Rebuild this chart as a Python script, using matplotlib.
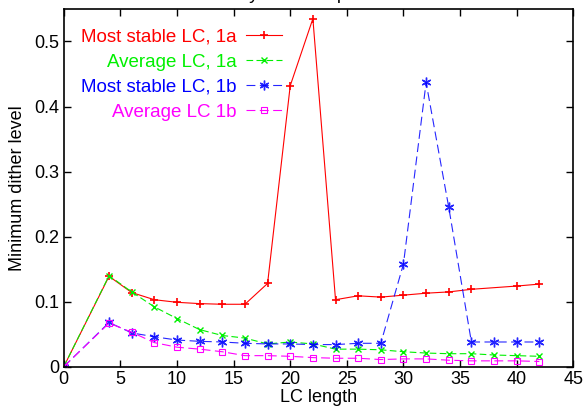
import matplotlib
matplotlib.use("Agg")
import matplotlib.pyplot as plt

plt.rcParams['font.family'] = ['Liberation Sans', 'DejaVu Sans']

x_red = [0, 4, 6, 8, 10, 12, 14, 16, 18, 20, 22, 24, 26, 28, 30, 32, 34, 36, 40, 42]
y_red = [0.0, 0.139, 0.114, 0.103, 0.099, 0.097, 0.096, 0.096, 0.128, 0.432, 0.535,
         0.103, 0.109, 0.107, 0.110, 0.113, 0.115, 0.119, 0.124, 0.127]

x_all = [0, 4, 6, 8, 10, 12, 14, 16, 18, 20, 22, 24, 26, 28, 30, 32, 34, 36, 38, 40, 42]
y_green = [0.0, 0.140, 0.115, 0.092, 0.074, 0.057, 0.048, 0.044, 0.035, 0.038, 0.035,
           0.027, 0.027, 0.026, 0.023, 0.021, 0.020, 0.020, 0.018, 0.017, 0.016]
y_blue = [0.0, 0.068, 0.052, 0.046, 0.041, 0.039, 0.038, 0.036, 0.035, 0.035, 0.034,
          0.034, 0.036, 0.036, 0.158, 0.437, 0.245, 0.038, 0.038, 0.038, 0.038]
y_mag = [0.0, 0.067, 0.053, 0.037, 0.030, 0.027, 0.023, 0.017, 0.017, 0.016, 0.014,
         0.013, 0.013, 0.011, 0.012, 0.012, 0.010, 0.009, 0.009, 0.009, 0.008]

labels = ["Most stable LC, 1a", "Average LC, 1a", "Most stable LC, 1b", "Average LC 1b"]
colors = ["#ff0000", "#00f000", "#0000ff", "#ff00ff"]

fig = plt.figure(figsize=(5.85, 4.07), dpi=100)
ax = fig.add_axes([0.109, 0.099, 0.871, 0.879])

ax.plot(x_red, y_red, color=colors[0], lw=0.8, marker='+', ms=6, mew=1.2,
        label=labels[0])
ax.plot(x_all, y_green, color=colors[1], lw=0.8, ls=(0, (6, 3)), marker='x', ms=5,
        mew=1.0, label=labels[1])
ax.plot(x_all, y_blue, color=colors[2], lw=0.8, ls=(0, (8, 4)), marker=(6, 2, 0),
        ms=7, mew=1.0, label=labels[2], alpha=0.85)
ax.plot(x_all, y_mag, color=colors[3], lw=0.8, ls=(0, (8, 4)), marker='s', ms=5,
        mfc='none', mew=0.8, label=labels[3])

ax.set_xlim(0, 45)
ax.set_ylim(0, 0.55)
ax.set_xticks([0, 5, 10, 15, 20, 25, 30, 35, 40, 45])
ax.set_yticks([0, 0.1, 0.2, 0.3, 0.4, 0.5])
ax.set_yticklabels(["0", "0.1", "0.2", "0.3", "0.4", "0.5"])
ax.tick_params(direction='in', top=True, right=True, labelsize=13, length=5,
               width=1, pad=3)
for s in ax.spines.values():
    s.set_linewidth(1.2)

ax.set_xlabel("LC length", fontsize=13, labelpad=1)
ax.set_ylabel("Minimum dither level", fontsize=13, labelpad=6)

leg = ax.legend(loc='upper right', bbox_to_anchor=(0.428, 0.945), frameon=False,
                markerfirst=False, fontsize=13.5, handlelength=1.9,
                handletextpad=0.5, labelspacing=0.42, numpoints=1,
                borderaxespad=0, borderpad=0)
for t, c in zip(leg.get_texts(), colors):
    t.set_color(c)

fig.text(0.51, 1.0 + 1.0 / 407, "Stability for each problem", ha='center',
         va='baseline', fontsize=13.5)

fig.savefig("out.png", dpi=100)
